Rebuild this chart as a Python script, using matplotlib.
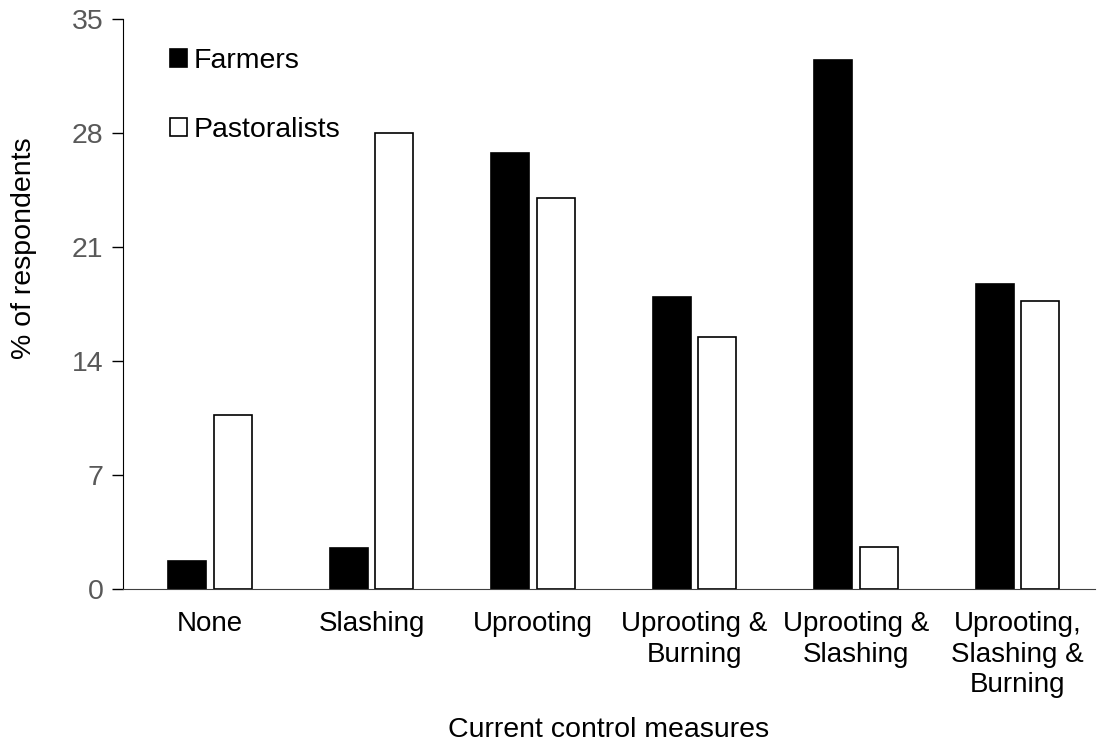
import matplotlib.pyplot as plt
import numpy as np

plt.rcParams['font.family'] = ['Liberation Sans', 'DejaVu Sans']

categories = ['None', 'Slashing', 'Uprooting', 'Uprooting &\nBurning',
              'Uprooting &\nSlashing', 'Uprooting,\nSlashing &\nBurning']
farmers = [1.7, 2.5, 26.8, 17.9, 32.5, 18.7]
pastoralists = [10.7, 28.0, 24.0, 15.5, 2.6, 17.7]

fig = plt.figure(figsize=(10.97, 7.49), dpi=100)
ax = fig.add_axes([123 / 1097, 1 - 589 / 749, 972 / 1097, 570 / 749])

x = np.arange(len(categories))
w = 0.235
ax.bar(x - 0.141, farmers, w, color='black', edgecolor='black', linewidth=1.2, label='Farmers')
ax.bar(x + 0.141, pastoralists, w, color='white', edgecolor='black', linewidth=1.2, label='Pastoralists')

ax.set_xlim(-0.54, 5.48)
ax.set_ylim(0, 35)
ax.set_yticks([0, 7, 14, 21, 28, 35])
ax.set_xticks(x)
ax.set_xticklabels(categories, fontsize=20, linespacing=1.22)
ax.tick_params(axis='x', length=0, pad=16)
ax.tick_params(axis='y', labelsize=20.5, labelcolor='#595959', length=8, width=1, direction='out', pad=6)

for s in ['top', 'right']:
    ax.spines[s].set_visible(False)
ax.spines['left'].set_color('black')
ax.spines['bottom'].set_color('#404040')

ax.set_ylabel('% of respondents', fontsize=20.5)
ax.yaxis.set_label_coords(-0.088, 0.598)
ax.set_xlabel('Current control measures', fontsize=20.5, labelpad=14)

leg = ax.legend(loc='upper left', bbox_to_anchor=(0.022, 0.994), frameon=False, fontsize=20.5,
                handlelength=0.58, handleheight=0.58, handletextpad=0.25, labelspacing=1.5)

fig.savefig('out.png', dpi=100)
